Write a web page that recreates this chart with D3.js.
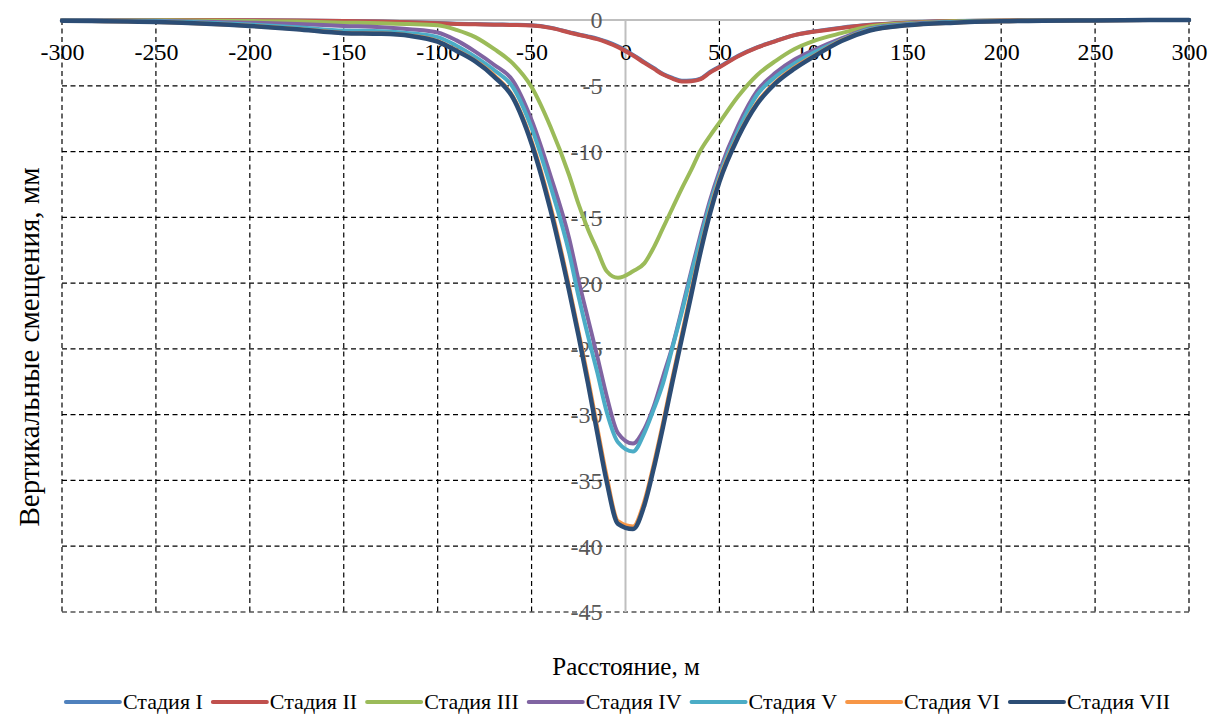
<!DOCTYPE html>
<html><head><meta charset="utf-8">
<script src="https://cdn.jsdelivr.net/npm/d3@7/dist/d3.min.js"></script>
<style>body{margin:0;background:#fff}svg{display:block}</style>
</head><body><svg id="c" width="1220" height="716" style="font-family:'Liberation Serif',serif"></svg>
<script>
const distances = [-300,-250,-200,-175,-150,-130,-115,-100,-90,-80,-70,-60,-50,-40,-30,-25,-20,-15,-10,-4,4,10,15,20,25,30,35,40,45,50,60,70,80,90,100,115,130,150,175,200,250,300];
const stage1 = [0,0,-0.02,-0.04,-0.07,-0.12,-0.17,-0.23,-0.28,-0.31,-0.34,-0.36,-0.4,-0.58,-0.92,-1.1,-1.25,-1.42,-1.65,-2.0,-2.65,-3.2,-3.65,-4.1,-4.4,-4.62,-4.6,-4.45,-3.95,-3.55,-2.72,-2.08,-1.58,-1.15,-0.88,-0.58,-0.37,-0.19,-0.08,-0.03,0,0];
const stage2 = [0,0,-0.02,-0.04,-0.07,-0.12,-0.18,-0.25,-0.3,-0.33,-0.36,-0.38,-0.42,-0.6,-0.95,-1.12,-1.28,-1.45,-1.7,-2.06,-2.7,-3.25,-3.7,-4.15,-4.45,-4.68,-4.65,-4.5,-4.0,-3.6,-2.75,-2.1,-1.6,-1.15,-0.9,-0.6,-0.38,-0.2,-0.08,-0.03,0,0];
const stage3 = [0,-0.02,-0.08,-0.12,-0.2,-0.25,-0.3,-0.4,-0.75,-1.3,-2.2,-3.3,-5.1,-8.1,-11.8,-14.0,-15.9,-17.5,-19.1,-19.6,-19.1,-18.5,-17.3,-15.8,-14.3,-12.8,-11.4,-9.9,-8.8,-7.8,-5.8,-4.2,-3.1,-2.2,-1.6,-1.0,-0.5,-0.25,-0.1,-0.05,0,0];
const stage4 = [-0.02,-0.06,-0.2,-0.3,-0.45,-0.55,-0.7,-0.95,-1.55,-2.4,-3.4,-4.6,-7.6,-11.8,-16.6,-19.8,-22.7,-25.6,-28.6,-31.4,-32.2,-31.1,-29.4,-27.1,-24.8,-22.0,-19.1,-16.3,-13.7,-11.5,-8.0,-5.4,-4.0,-3.0,-2.3,-1.4,-0.65,-0.3,-0.15,-0.07,-0.02,0];
const stage5 = [-0.03,-0.1,-0.35,-0.55,-0.8,-0.85,-1.0,-1.3,-1.95,-2.8,-3.8,-5.1,-8.2,-12.6,-17.7,-21.0,-24.0,-26.8,-29.8,-32.1,-32.8,-31.4,-29.6,-27.6,-24.9,-22.2,-19.3,-16.6,-14.0,-11.8,-8.4,-5.7,-4.3,-3.3,-2.5,-1.5,-0.7,-0.35,-0.15,-0.08,-0.02,0];
const stage6 = [-0.05,-0.15,-0.44,-0.68,-0.98,-1.03,-1.18,-1.6,-2.3,-3.1,-4.2,-5.8,-9.2,-14.1,-20.3,-23.7,-27.2,-31.0,-34.7,-38.1,-38.5,-36.6,-33.8,-30.6,-27.2,-23.9,-20.6,-17.4,-14.5,-12.1,-8.8,-6.3,-4.7,-3.6,-2.75,-1.55,-0.78,-0.4,-0.2,-0.1,-0.03,0];
const stage7 = [-0.05,-0.15,-0.45,-0.7,-1.0,-1.05,-1.2,-1.65,-2.35,-3.15,-4.3,-5.9,-9.4,-14.4,-20.6,-24.0,-27.6,-31.4,-35.1,-38.3,-38.7,-36.9,-34.1,-30.9,-27.5,-24.2,-20.9,-17.6,-14.7,-12.3,-8.9,-6.4,-4.8,-3.7,-2.8,-1.6,-0.8,-0.4,-0.2,-0.1,-0.03,0];
const seriesNames = ["Стадия I","Стадия II","Стадия III","Стадия IV","Стадия V","Стадия VI","Стадия VII"];
const seriesColors = ["#4F81BD","#C0504D","#9BBB59","#8064A2","#4BACC6","#F79646","#2C4D75"];
const xTicks = [-300,-250,-200,-150,-100,-50,0,50,100,150,200,250,300];
const yTicks = [0,-5,-10,-15,-20,-25,-30,-35,-40,-45];
const xTitle = "Расстояние, м";
const yTitle = "Вертикальные смещения, мм";

const FONT = "'Liberation Serif', 'Times New Roman', serif";
const allSeries = [stage1,stage2,stage3,stage4,stage5,stage6,stage7];
const svg = d3.select("#c");
const L=62,R=1189,T=20,B=612;
const x = d3.scaleLinear().domain([-300,300]).range([L,R]);
const y = d3.scaleLinear().domain([-45,0]).range([B,T]);

const grid = svg.append("g");
grid.selectAll("line.h").data(yTicks.filter(v=>v!==0)).enter().append("line")
  .attr("x1",L).attr("x2",R).attr("y1",d=>y(d)).attr("y2",d=>y(d))
  .attr("stroke","#000").attr("stroke-width",1.2).attr("stroke-dasharray","5,3.5");
grid.selectAll("line.v").data(xTicks.filter(v=>v!==0)).enter().append("line")
  .attr("x1",d=>x(d)).attr("x2",d=>x(d)).attr("y1",T).attr("y2",B)
  .attr("stroke","#000").attr("stroke-width",1.2).attr("stroke-dasharray","5,3.5");
svg.append("line").attr("x1",L).attr("x2",R).attr("y1",y(0)).attr("y2",y(0)).attr("stroke","#BFBFBF").attr("stroke-width",2);
svg.append("line").attr("x1",x(0)).attr("x2",x(0)).attr("y1",T).attr("y2",B).attr("stroke","#BFBFBF").attr("stroke-width",2);

const xAxis = d3.axisBottom(x).tickValues(xTicks).tickSize(0).tickPadding(0).tickFormat(d=>String(d));
const gx = svg.append("g").attr("transform",`translate(0,${y(0)})`).call(xAxis);
gx.attr("font-family",null);
gx.select(".domain").remove();
gx.selectAll("text").style("font-family",FONT).style("font-size","24px").attr("fill","#000").attr("dy",null).attr("y",40);

const yAxis = d3.axisLeft(y).tickValues(yTicks).tickSize(0).tickPadding(0).tickFormat(d=>String(d));
const gy = svg.append("g").attr("transform",`translate(${x(0)-23},0)`).call(yAxis);
gy.attr("font-family",null);
gy.select(".domain").remove();
gy.selectAll("text").style("font-family",FONT).style("font-size","24px").attr("fill","#595959").attr("dy","0.33em");

const line = d3.line().x((d,i)=>x(distances[i])).y(d=>y(d)).curve(d3.curveMonotoneX);
allSeries.forEach((s,i)=>{
  svg.append("path").attr("d",line(s)).attr("fill","none").attr("stroke",seriesColors[i])
    .attr("stroke-width",i===6?4.5:4).attr("stroke-linejoin","round").attr("stroke-linecap","round");
});

svg.append("text").attr("x",626).attr("y",675).attr("text-anchor","middle")
  .style("font-family",FONT).style("font-size","25px").text(xTitle);
svg.append("text").attr("transform",`translate(39,347) rotate(-90)`).attr("text-anchor","middle")
  .style("font-family",FONT).style("font-size","29px").text(yTitle);

const lg = svg.append("g");
let cx = 0;
seriesNames.forEach((n,i)=>{
  const g = lg.append("g").attr("transform",`translate(${cx},0)`);
  g.append("line").attr("x1",0).attr("x2",54).attr("y1",0).attr("y2",0).attr("stroke",seriesColors[i]).attr("stroke-width",4).attr("stroke-linecap","round");
  const t = g.append("text").attr("x",57).attr("y",7).style("font-family",FONT).style("font-size","22px").text(n);
  cx += 57 + t.node().getComputedTextLength() + 10;
});
const total = cx - 10;
lg.attr("transform",`translate(${618 - total/2},702)`);
</script></body></html>
